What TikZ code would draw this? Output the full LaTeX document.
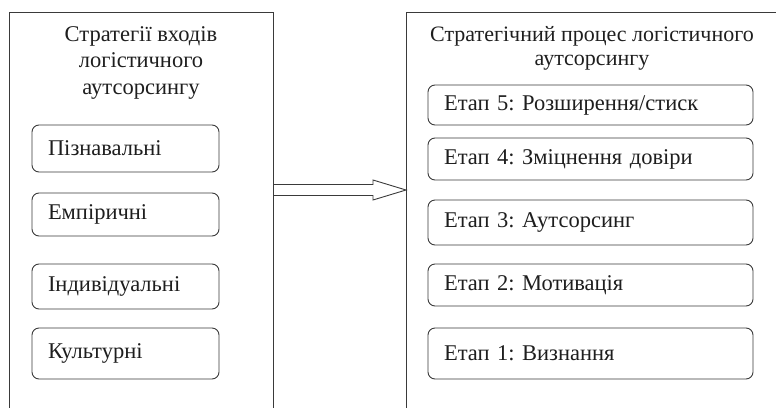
\documentclass[tikz,border=0pt]{standalone}
\usepackage{fontspec}
\setmainfont{Liberation Serif}
\usetikzlibrary{calc}
\definecolor{linecol}{HTML}{3A3A3A}
\definecolor{txtcol}{HTML}{1E1E1E}
\frenchspacing
\begin{document}
\begin{tikzpicture}[x=1pt,y=-1pt,
  frame/.style={draw=linecol, line width=0.9pt, inner sep=0pt, outer sep=0pt, anchor=north west},
  itembox/.style={draw=linecol, line width=0.9pt, rounded corners=7pt, anchor=north west,
    inner xsep=16pt, inner ysep=0pt, outer sep=0pt, align=left, text=txtcol,
    font=\fontsize{22.5}{26}\selectfont},
  leftitem/.style={itembox, text width=155pt},
  rightitem/.style={itembox, text width=293pt},
  titletext/.style={anchor=north, align=center, inner sep=0pt, text=txtcol},
  arrowline/.style={draw=linecol, line width=0.9pt, line join=miter}
]
\useasboundingbox (0,0) rectangle (776,407);
\clip (0,0) rectangle (776,407);
% outer frames
\node[frame, minimum width=264pt, minimum height=420pt] (L) at (9,12) {};
\node[frame, minimum width=400pt, minimum height=420pt] (R) at (406,12) {};
% titles
\node[titletext, font=\fontsize{22.5}{26.5}\selectfont] (Lt) at (141,26) {Стратегії входів\\логістичного\\аутсорсингу};
\node[titletext, font=\fontsize{22}{24}\selectfont] (Rt) at (592,26) {Стратегічний процес логістичного\\аутсорсингу};
% left items
\node[leftitem, minimum height=47pt] (l1) at (32,125) {Пізнавальні};
\node[leftitem, minimum height=43pt] (l2) at (32,193) {Емпіричні};
\node[leftitem, minimum height=45pt] (l3) at (32,264) {Індивідуальні};
\node[leftitem, minimum height=51pt] (l4) at (32,328) {Культурні};
% right items
\node[rightitem, minimum height=40pt] (r5) at (428,85) {Етап 5: Розширення/стиск};
\node[rightitem, minimum height=42pt] (r4) at (428,138) {Етап 4: Зміцнення довіри};
\node[rightitem, minimum height=45pt] (r3) at (428,200) {Етап 3: Аутсорсинг};
\node[rightitem, minimum height=42pt] (r2) at (428,264) {Етап 2: Мотивація};
\node[rightitem, minimum height=51pt] (r1) at (428,328) {Етап 1: Визнання};
% arrow
\coordinate (ay) at (0,190);
\coordinate (a) at (L.east |- ay);
\coordinate (b) at (R.west |- ay);
\draw[arrowline] ([yshift=5.5pt]a) -- ([xshift=-33pt,yshift=5.5pt]b) -- ([xshift=-33pt,yshift=10pt]b) -- (b)
  -- ([xshift=-33pt,yshift=-10pt]b) -- ([xshift=-33pt,yshift=-5.5pt]b) -- ([yshift=-5.5pt]a);
\end{tikzpicture}
\end{document}
